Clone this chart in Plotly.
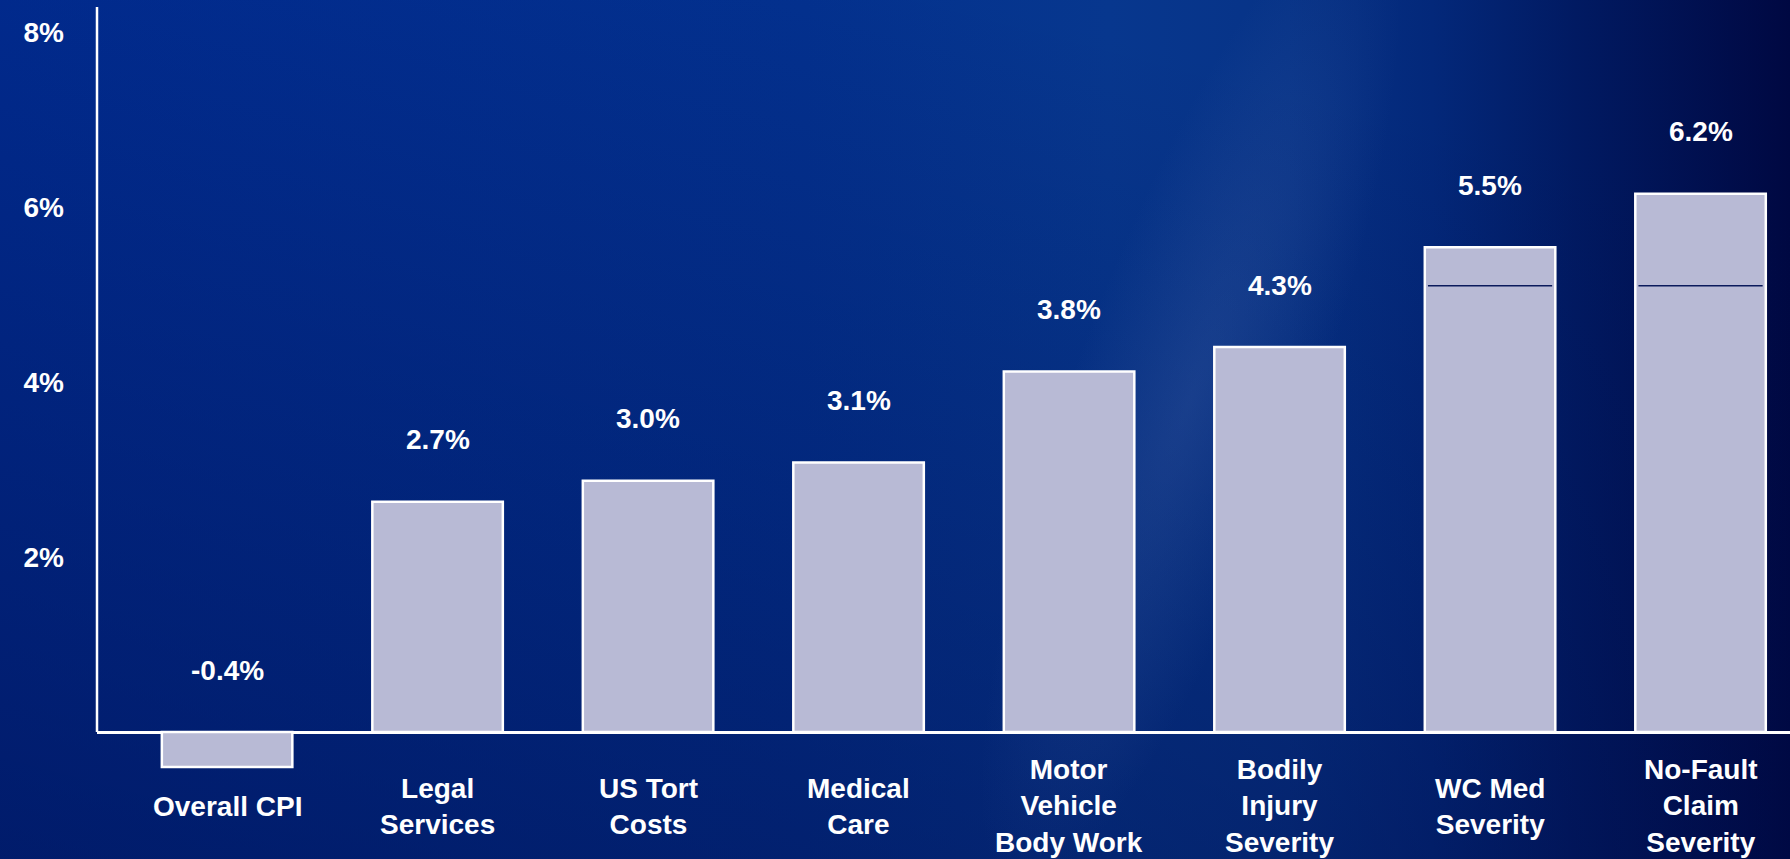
import base64
import plotly.graph_objects as go

# ---- data ----
categories = ["Overall CPI", "Legal<br>Services", "US Tort<br>Costs", "Medical<br>Care",
              "Motor<br>Vehicle<br>Body Work", "Bodily<br>Injury<br>Severity",
              "WC Med<br>Severity", "No-Fault<br>Claim<br>Severity"]
bar_heights = [-0.40, 2.63, 2.87, 3.08, 4.12, 4.40, 5.54, 6.15]
value_labels = ["-0.4%", "2.7%", "3.0%", "3.1%", "3.8%", "4.3%", "5.5%", "6.2%"]
split_levels = [None, None, None, None, None, None, 5.1, 5.1]
tick_values = [2, 4, 6, 8]
tick_labels = ["2%", "4%", "6%", "8%"]

W, H = 1790, 859
ML, MR, MT, MB = 97, 0, 7, 0
FONT = "Liberation Sans, Arial, sans-serif"
BAR_FILL = "#b8bad5"

idx = list(range(len(categories)))

svg = f"""<svg xmlns='http://www.w3.org/2000/svg' width='{W}' height='{H}' preserveAspectRatio='none'>
<defs>
<linearGradient id='h' x1='0' y1='0' x2='1' y2='0'>
<stop offset='0' stop-color='#012e96'/>
<stop offset='0.45' stop-color='#03318f'/>
<stop offset='0.62' stop-color='#07378e'/>
<stop offset='0.72' stop-color='#073387'/>
<stop offset='0.80' stop-color='#03287a'/>
<stop offset='0.88' stop-color='#011a62'/>
<stop offset='1' stop-color='#000842'/>
</linearGradient>
<linearGradient id='d' x1='0.55' y1='0' x2='0' y2='1'>
<stop offset='0' stop-color='#000c48' stop-opacity='0'/>
<stop offset='1' stop-color='#000c48' stop-opacity='0.55'/>
</linearGradient>
<radialGradient id='s'>
<stop offset='0' stop-color='#5a78b8' stop-opacity='0.22'/>
<stop offset='1' stop-color='#5a78b8' stop-opacity='0'/>
</radialGradient>
</defs>
<rect width='{W}' height='{H}' fill='url(#h)'/>
<rect width='{W}' height='{H}' fill='url(#d)'/>
<ellipse cx='1190' cy='400' rx='120' ry='520' transform='rotate(20 1190 400)' fill='url(#s)'/>
</svg>"""
bg_uri = "data:image/svg+xml;base64," + base64.b64encode(svg.encode()).decode()

pw, ph = W - ML - MR, H - MT - MB
px_per_unit = 87.5
y_bottom = -(H - MT - 725) / px_per_unit
y_top = y_bottom + ph / px_per_unit

fig = go.Figure()
fig.add_trace(go.Bar(
    x=idx, y=bar_heights, width=0.62,
    marker=dict(color=BAR_FILL, line=dict(color="white", width=2.5)),
    hoverinfo="skip", showlegend=False,
))

# thin dark split lines inside the last two bars
sx, sy = [], []
for i, lvl in zip(idx, split_levels):
    if lvl is not None:
        sx += [i - 0.295, i + 0.295, None]
        sy += [lvl, lvl, None]
fig.add_trace(go.Scatter(x=sx, y=sy, mode="lines", line=dict(color="#0a1a5c", width=1.5),
                         hoverinfo="skip", showlegend=False))

annotations = []
for i, h, lab in zip(idx, bar_heights, value_labels):
    annotations.append(dict(x=i, y=max(h, 0), yshift=62, text=lab, showarrow=False,
                            xanchor="center", yanchor="middle",
                            font=dict(family=FONT, size=28, color="white", weight="bold")))
for i, cat in zip(idx, categories):
    annotations.append(dict(x=i, y=-0.85, text=cat, showarrow=False,
                            xanchor="center", yanchor="middle",
                            font=dict(family=FONT, size=28, color="white", weight="bold")))

fig.update_layout(
    width=W, height=H,
    margin=dict(l=ML, r=MR, t=MT, b=MB, pad=0),
    paper_bgcolor="#02267c", plot_bgcolor="rgba(0,0,0,0)",
    images=[dict(source=bg_uri, xref="paper", yref="paper",
                 x=-ML / pw, y=1 + MT / ph, sizex=W / pw, sizey=H / ph,
                 xanchor="left", yanchor="top", sizing="stretch", layer="below")],
    xaxis=dict(range=[-0.618, 7.425], showticklabels=False, showgrid=False,
               zeroline=False, showline=False, fixedrange=True),
    yaxis=dict(range=[y_bottom, y_top], tickvals=tick_values, ticktext=tick_labels,
               showgrid=False, zeroline=True, zerolinecolor="white", zerolinewidth=2.5,
               showline=False, ticks="", ticklabelstandoff=32,
               tickfont=dict(family=FONT, size=28, color="white", weight="bold")),
    shapes=[dict(type="line", xref="x domain", yref="y", x0=0, x1=0, y0=0, y1=y_top,
                 line=dict(color="white", width=2.5), layer="above")],
    annotations=annotations,
    showlegend=False,
)

fig.write_html("out.html", config={"displayModeBar": False},
               post_script="document.body.style.margin='0';document.body.style.overflow='hidden';")
